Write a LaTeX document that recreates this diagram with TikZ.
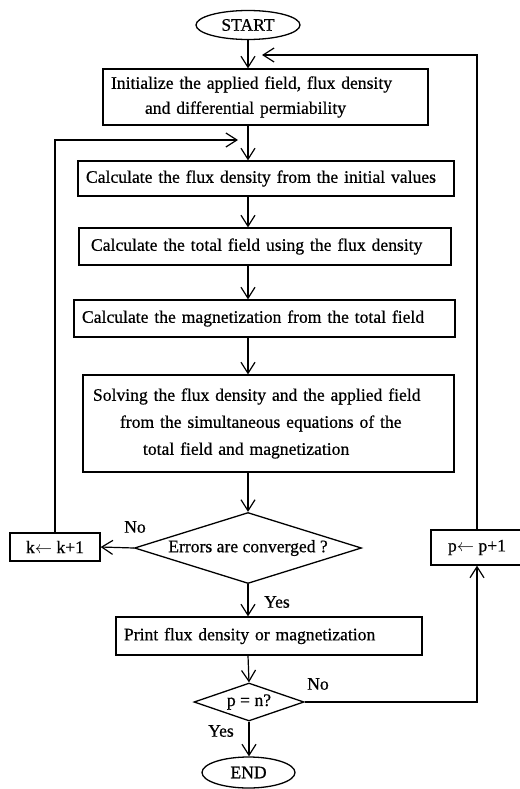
\documentclass[tikz,border=0pt]{standalone}
\usepackage{fontspec}
\setmainfont[FakeBold=0.6]{Liberation Serif}
\usetikzlibrary{shapes.geometric,arrows.meta}
\begin{document}
\begin{tikzpicture}[x=1pt,y=-1pt,
  every node/.style={font=\fontsize{17.6}{25}\selectfont},
  box/.style={draw, line width=1.3pt, inner ysep=0pt},
  term/.style={draw, ellipse, line width=1.3pt, inner sep=0pt},
  dec/.style={draw, diamond, line width=1.3pt, inner sep=0pt},
  lbl/.style={inner sep=0pt},
  arr/.style={line width=1.2pt, -{Straight Barb[length=11pt,width=14pt,line width=1.2pt]}}]
\useasboundingbox (0,0) rectangle (519,789);
\node[term, minimum width=104pt, minimum height=29pt] (start) at (248,25) {START};
\node[box, text width=309pt, inner xsep=8pt, align=left, minimum height=56pt] (init) at (265.5,97) {Initialize the applied field, flux density\\\hspace*{34pt}and differential permiability};
\node[box, text width=360pt, inner xsep=8pt, align=left, minimum height=35pt] (c1) at (266,178.5) {Calculate the flux density from the initial values};
\node[box, text width=348pt, inner xsep=12pt, align=left, minimum height=37pt] (c2) at (265,246.5) {Calculate the total field using the flux density};
\node[box, text width=365pt, inner xsep=8pt, align=left, minimum height=37pt] (c3) at (264.5,318.5) {Calculate the magnetization from the total field};
\node[box, text width=351pt, inner xsep=10pt, align=left, minimum height=97pt, font=\fontsize{17.6}{27}\selectfont] (c4) at (268.5,423.5) {Solving the flux density and the applied field\\\hspace*{27pt}from the simultaneous equations of the\\\hspace*{50pt}total field and magnetization};
\node[dec, aspect=3.2, minimum width=227pt, minimum height=71pt] (d1) at (248,548) {Errors are converged ?};
\node[box, minimum width=90pt, minimum height=28pt, inner xsep=4pt] (k) at (55,547) {k$\leftarrow$ k+1};
\node[box, minimum width=92pt, minimum height=35pt] (p) at (477,547.5) {p$\leftarrow$ p+1};
\node[box, text width=290pt, inner xsep=8pt, align=left, minimum height=38pt] (pr) at (269,636) {Print flux density or magnetization};
\node[dec, aspect=2.9, minimum width=110pt, minimum height=38pt] (d2) at (249,702) {p = n?};
\node[term, minimum width=93pt, minimum height=31pt] (end) at (248.5,772.5) {END};
\node[lbl] (no1) at (135,527) {No};
\node[lbl] (yes1) at (277,602) {Yes};
\node[lbl] (no2) at (318,684) {No};
\node[lbl] (yes2) at (221,731) {Yes};
\coordinate (kin) at (238,140);
\coordinate (pin) at (262,55);
\draw[arr] (start.south) -- (start.south |- init.north);
\draw[arr] (init.south -| start.south) -- (c1.north -| start.south);
\draw[arr] (c1.south -| start.south) -- (c2.north -| start.south);
\draw[arr] (c2.south -| start.south) -- (c3.north -| start.south);
\draw[arr] (c3.south -| start.south) -- (c4.north -| start.south);
\draw[arr] (c4.south -| start.south) -- (d1.north);
\draw[arr] (d1.south) -- (d1.south |- pr.north);
\draw[arr] (pr.south -| d1.south) -- (d2.north);
\draw[arr] (d2.south) -- (d2.south |- end.north);
\draw[arr] (d1.west) -- (k.east);
\draw[arr] (k.north) |- (kin);
\draw[arr] (d2.east) -| (p.south);
\draw[arr] (p.north) |- (pin);
\end{tikzpicture}
\end{document}
